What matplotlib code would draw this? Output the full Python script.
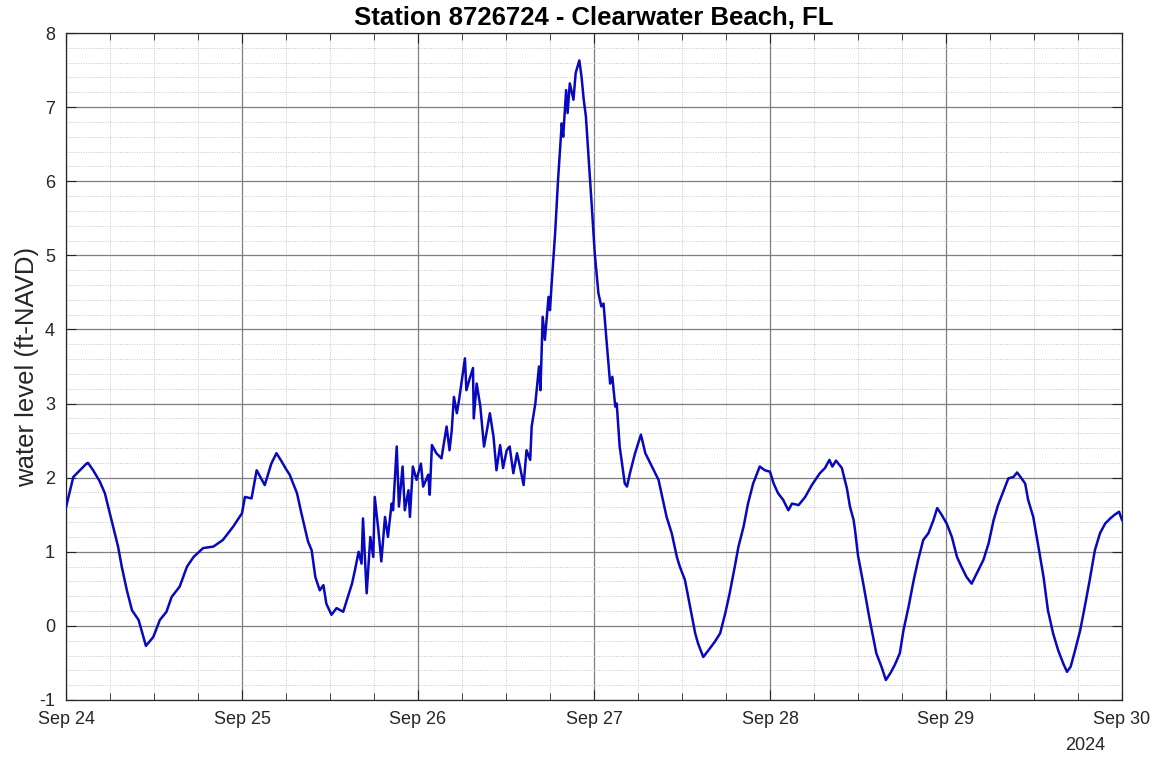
import numpy as np
import pandas as pd
import matplotlib
matplotlib.use("Agg")
import matplotlib.pyplot as plt
import matplotlib.dates as mdates

plt.rcParams['font.family'] = ['Liberation Sans', 'DejaVu Sans']
plt.rcParams['axes.unicode_minus'] = False

title = "Station 8726724 - Clearwater Beach, FL"
ylabel = "water level (ft-NAVD)"
start = "2024-09-24 00:00"

# hours since Sep 24 00:00
hours = [0.0, 1.0, 2.8, 3.0, 3.7, 4.6, 5.3, 6.2, 7.1, 7.6, 8.3, 9.0, 9.9, 10.9, 11.9, 12.8,
         13.7, 14.4, 15.5, 16.5, 17.4, 18.7, 20.1, 21.4, 22.8, 24.0, 24.4, 25.3, 26.0, 27.1,
         28.0, 28.7, 29.4, 30.1, 30.5, 31.5, 32.1, 33.0, 33.5, 34.0, 34.6, 35.1, 35.5, 36.2,
         36.9, 37.8, 38.3, 39.0, 39.4, 39.9, 40.3, 40.5, 41.0, 41.5, 41.9, 42.1, 42.6, 43.0,
         43.5, 43.9, 44.4, 44.6, 45.1, 45.4, 45.9, 46.2, 46.7, 46.9, 47.3, 47.8, 48.4, 48.7,
         49.4, 49.6, 49.9, 50.5, 51.2, 51.9, 52.3, 52.6, 52.9, 53.3, 53.6, 54.4, 54.6, 55.0,
         55.5, 55.6, 56.0, 56.5, 57.0, 57.4, 57.8, 58.3, 58.7, 59.2, 59.6, 60.1, 60.5, 61.0,
         61.5, 61.9, 62.4, 62.8, 63.3, 63.5, 64.0, 64.5, 64.7, 65.0, 65.3, 65.8, 66.0, 66.2,
         66.7, 67.1, 67.6, 67.8, 68.2, 68.4, 68.7, 69.2, 69.5, 70.0, 70.3, 70.6, 70.9, 71.1,
         71.4, 71.7, 72.1, 72.6, 73.0, 73.3, 73.7, 74.2, 74.5, 74.9, 75.1, 75.5, 76.2, 76.5,
         76.9, 77.6, 78.4, 79.0, 79.9, 80.8, 81.4, 81.9, 82.6, 83.3, 83.7, 84.4, 85.1, 85.8,
         86.2, 86.9, 87.6, 88.5, 89.2, 89.9, 90.5, 91.2, 91.7, 92.4, 93.0, 93.7, 94.6, 95.3,
         96.0, 96.5, 97.1, 97.8, 98.5, 99.0, 99.9, 100.8, 101.7, 102.8, 103.5, 104.1, 104.5,
         105.0, 105.8, 106.5, 106.9, 107.4, 107.6, 108.0, 108.7, 109.6, 110.5, 111.2, 111.8,
         112.4, 113.0, 113.7, 114.2, 114.9, 115.6, 116.2, 116.9, 117.6, 118.3, 118.8, 119.4,
         120.1, 120.8, 121.5, 122.1, 122.8, 123.5, 124.2, 125.1, 125.8, 126.5, 127.1, 127.8,
         128.5, 129.2, 129.7, 130.3, 130.8, 131.2, 131.9, 132.6, 133.3, 133.9, 134.6, 135.3,
         136.0, 136.5, 137.0, 137.6, 138.3, 139.0, 139.6, 140.3, 141.0, 141.7, 142.4, 143.0,
         143.6, 144.0]

water_level = [1.60, 2.01, 2.19, 2.20, 2.10, 1.95, 1.79, 1.43, 1.07, 0.80, 0.48, 0.21, 0.08, -0.27,
               -0.15, 0.08, 0.19, 0.39, 0.53, 0.80, 0.93, 1.05, 1.07, 1.16, 1.34, 1.52, 1.74, 1.72,
               2.10, 1.90, 2.19, 2.33, 2.22, 2.10, 2.04, 1.79, 1.52, 1.14, 1.02, 0.66, 0.48, 0.55,
               0.30, 0.15, 0.24, 0.19, 0.35, 0.57, 0.75, 1.00, 0.84, 1.45, 0.44, 1.20, 0.93, 1.74,
               1.29, 0.87, 1.47, 1.20, 1.65, 1.56, 2.42, 1.61, 2.15, 1.56, 1.83, 1.47, 2.15, 1.97,
               2.19, 1.88, 2.04, 1.77, 2.44, 2.33, 2.26, 2.69, 2.37, 2.64, 3.09, 2.87, 3.05, 3.61,
               3.18, 3.32, 3.48, 2.80, 3.27, 2.96, 2.42, 2.64, 2.87, 2.55, 2.10, 2.44, 2.13, 2.37,
               2.42, 2.06, 2.33, 2.15, 1.90, 2.37, 2.24, 2.69, 3.00, 3.50, 3.18, 4.17, 3.86, 4.44,
               4.26, 4.58, 5.30, 6.02, 6.78, 6.60, 7.23, 6.92, 7.32, 7.10, 7.46, 7.63, 7.41, 7.10,
               6.87, 6.56, 6.11, 5.66, 5.03, 4.49, 4.31, 4.35, 3.86, 3.27, 3.36, 2.96, 3.00, 2.42,
               1.92, 1.88, 2.06, 2.33, 2.58, 2.33, 2.15, 1.97, 1.70, 1.47, 1.25, 0.93, 0.80, 0.62,
               0.26, -0.10, -0.24, -0.42, -0.33, -0.21, -0.10, 0.17, 0.44, 0.80, 1.07, 1.34, 1.65,
               1.92, 2.15, 2.10, 2.08, 1.92, 1.79, 1.70, 1.56, 1.65, 1.63, 1.74, 1.90, 2.06, 2.13,
               2.24, 2.15, 2.23, 2.13, 1.85, 1.61, 1.43, 1.29, 0.95, 0.58, 0.08, -0.37, -0.55,
               -0.73, -0.64, -0.53, -0.37, -0.06, 0.26, 0.62, 0.89, 1.16, 1.25, 1.43, 1.59, 1.50,
               1.38, 1.20, 0.93, 0.80, 0.66, 0.57, 0.71, 0.89, 1.11, 1.43, 1.63, 1.81, 1.99, 2.01,
               2.07, 1.99, 1.92, 1.70, 1.47, 1.07, 0.66, 0.21, -0.10, -0.33, -0.51, -0.62, -0.55,
               -0.33, -0.06, 0.30, 0.62, 1.02, 1.25, 1.38, 1.45, 1.50, 1.54, 1.43]

y_ticks = [-1, 0, 1, 2, 3, 4, 5, 6, 7, 8]

t0 = pd.Timestamp(start)
times = t0 + pd.to_timedelta(hours, unit="h")

fig = plt.figure(figsize=(11.59, 7.57), dpi=100)
ax = fig.add_axes([66 / 1159, 1 - 700 / 757, (1122 - 66) / 1159, (700 - 33) / 757])

ax.plot(times, water_level, color="#0808BE", lw=1.8, zorder=3)

ax.set_xlim(t0, t0 + pd.Timedelta(days=6))
ax.set_ylim(-1, 8)
ax.set_yticks(y_ticks)
ax.set_yticks(np.arange(-1, 8.01, 0.2), minor=True)
ax.xaxis.set_major_locator(mdates.DayLocator())
ax.xaxis.set_minor_locator(mdates.HourLocator(byhour=[6, 12, 18]))
ax.xaxis.set_major_formatter(mdates.DateFormatter("%b %d"))

ax.grid(True, which="major", color="#7f7f7f", lw=0.9, ls="-")
ax.grid(True, which="minor", color="#c4c4c4", lw=0.7, ls=(0, (1, 1.5)))
ax.set_axisbelow(True)

ax.tick_params(which="both", direction="in", top=True, right=True, colors="#262626",
               labelcolor="#262626")
ax.tick_params(which="major", length=7, width=0.8, labelsize=13, pad=8)
ax.tick_params(axis="y", which="minor", length=0)
ax.tick_params(axis="x", which="minor", length=5, width=0.6)
for s in ax.spines.values():
    s.set_color("#262626")
    s.set_linewidth(0.9)

ax.set_title(title, fontsize=18.5, fontweight="bold", pad=6)
ax.set_ylabel(ylabel, fontsize=18.5, color="#262626", labelpad=0)
fig.text(1105 / 1159, 1 - 745 / 757, "2024", fontsize=13, color="#262626",
         ha="right", va="center")

fig.savefig("out.png", dpi=100)
